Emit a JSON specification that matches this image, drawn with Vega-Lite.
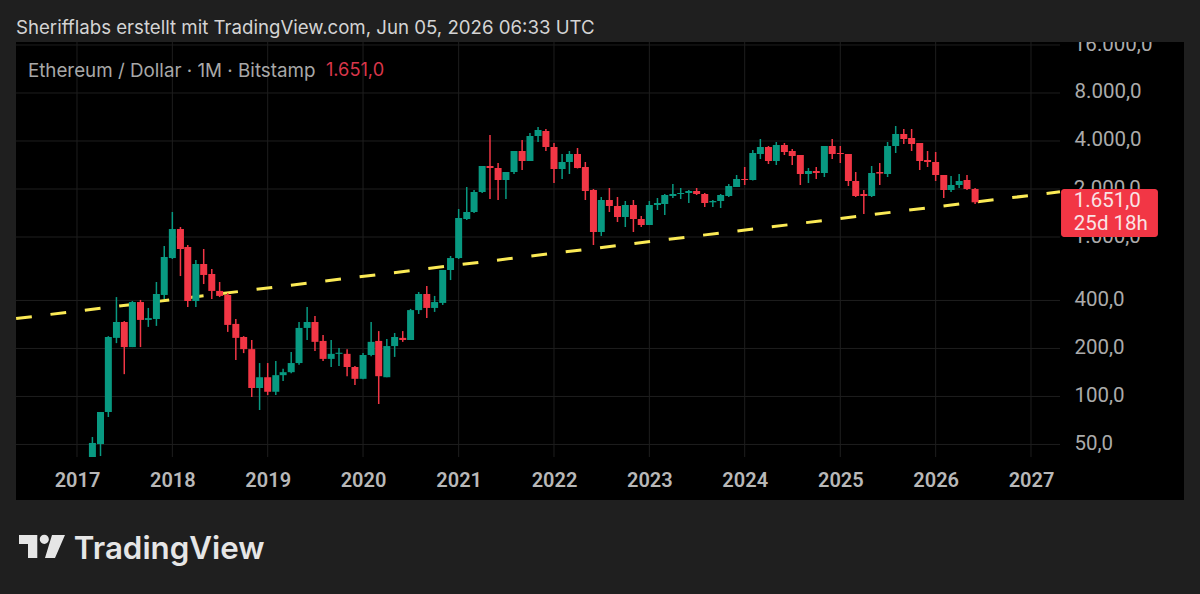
{
  "$schema": "https://vega.github.io/schema/vega-lite/v6.json",
  "width": 1168,
  "height": 458,
  "autosize": {"type": "none"},
  "padding": {"left": 16, "top": 42, "right": 16, "bottom": 94},
  "background": "#1f1f1f",
  "view": {"fill": "#000000", "stroke": null},
  "title": {
    "text": "Sherifflabs erstellt mit TradingView.com, Jun 05, 2026 06:33 UTC",
    "anchor": "start",
    "frame": "group",
    "offset": 4,
    "font": "Inter",
    "fontSize": 18.65,
    "fontWeight": "normal",
    "color": "#d4d4d4"
  },
  "datasets": {
    "candles": [
      {"date":"2017-03-01","open":41.7,"high":55.7,"low":41.7,"close":51.1},
      {"date":"2017-04-01","open":50.3,"high":79.9,"low":42.3,"close":79.9},
      {"date":"2017-05-01","open":79.9,"high":239,"low":74.3,"close":236},
      {"date":"2017-06-01","open":233,"high":420,"low":216,"close":293},
      {"date":"2017-07-01","open":293,"high":297,"low":138,"close":204},
      {"date":"2017-08-01","open":204,"high":397,"low":204,"close":391},
      {"date":"2017-09-01","open":391,"high":403,"low":204,"close":302},
      {"date":"2017-10-01","open":302,"high":359,"low":273,"close":310},
      {"date":"2017-11-01","open":306,"high":522,"low":277,"close":439},
      {"date":"2017-12-01","open":433,"high":878,"low":409,"close":749},
      {"date":"2018-01-01","open":738,"high":1435,"low":728,"close":1122},
      {"date":"2018-02-01","open":1122,"high":1155,"low":569,"close":841},
      {"date":"2018-03-01","open":866,"high":891,"low":364,"close":397},
      {"date":"2018-04-01","open":397,"high":717,"low":364,"close":677},
      {"date":"2018-05-01","open":677,"high":841,"low":507,"close":578},
      {"date":"2018-06-01","open":586,"high":630,"low":409,"close":459},
      {"date":"2018-07-01","open":459,"high":522,"low":420,"close":427},
      {"date":"2018-08-01","open":433,"high":445,"low":254,"close":281},
      {"date":"2018-09-01","open":285,"high":306,"low":169,"close":233},
      {"date":"2018-10-01","open":236,"high":239,"low":187,"close":198},
      {"date":"2018-11-01","open":198,"high":226,"low":99.2,"close":113},
      {"date":"2018-12-01","open":113,"high":162,"low":82.2,"close":132},
      {"date":"2019-01-01","open":132,"high":162,"low":102,"close":107},
      {"date":"2019-02-01","open":107,"high":167,"low":102,"close":136},
      {"date":"2019-03-01","open":136,"high":149,"low":125,"close":142},
      {"date":"2019-04-01","open":142,"high":190,"low":140,"close":162},
      {"date":"2019-05-01","open":162,"high":293,"low":158,"close":269},
      {"date":"2019-06-01","open":269,"high":364,"low":226,"close":293},
      {"date":"2019-07-01","open":293,"high":320,"low":193,"close":220},
      {"date":"2019-08-01","open":223,"high":243,"low":167,"close":172},
      {"date":"2019-09-01","open":172,"high":226,"low":153,"close":185},
      {"date":"2019-10-01","open":185,"high":201,"low":155,"close":188},
      {"date":"2019-11-01","open":185,"high":198,"low":134,"close":153},
      {"date":"2019-12-01","open":153,"high":155,"low":118,"close":129},
      {"date":"2020-01-01","open":129,"high":187,"low":128,"close":182},
      {"date":"2020-02-01","open":182,"high":293,"low":179,"close":220},
      {"date":"2020-03-01","open":223,"high":257,"low":89.7,"close":134},
      {"date":"2020-04-01","open":132,"high":229,"low":132,"close":207},
      {"date":"2020-05-01","open":207,"high":250,"low":177,"close":236},
      {"date":"2020-06-01","open":233,"high":257,"low":220,"close":226},
      {"date":"2020-07-01","open":226,"high":354,"low":226,"close":348},
      {"date":"2020-08-01","open":348,"high":452,"low":329,"close":439},
      {"date":"2020-09-01","open":439,"high":493,"low":310,"close":359},
      {"date":"2020-10-01","open":359,"high":427,"low":339,"close":391},
      {"date":"2020-11-01","open":386,"high":621,"low":375,"close":621},
      {"date":"2020-12-01","open":621,"high":760,"low":537,"close":738},
      {"date":"2021-01-01","open":738,"high":1498,"low":728,"close":1316},
      {"date":"2021-02-01","open":1297,"high":2058,"low":1278,"close":1435},
      {"date":"2021-03-01","open":1435,"high":1971,"low":1414,"close":1915},
      {"date":"2021-04-01","open":1915,"high":2788,"low":1888,"close":2788},
      {"date":"2021-05-01","open":2788,"high":4362,"low":1731,"close":2708},
      {"date":"2021-06-01","open":2708,"high":2911,"low":1706,"close":2278},
      {"date":"2021-07-01","open":2278,"high":2556,"low":1731,"close":2556},
      {"date":"2021-08-01","open":2556,"high":3462,"low":2484,"close":3462},
      {"date":"2021-09-01","open":3462,"high":4058,"low":2631,"close":2997},
      {"date":"2021-10-01","open":2997,"high":4490,"low":2997,"close":4299},
      {"date":"2021-11-01","open":4299,"high":4896,"low":3943,"close":4689},
      {"date":"2021-12-01","open":4622,"high":4757,"low":3462,"close":3668},
      {"date":"2022-01-01","open":3668,"high":3886,"low":2181,"close":2670},
      {"date":"2022-02-01","open":2670,"high":3315,"low":2311,"close":2954},
      {"date":"2022-03-01","open":2954,"high":3462,"low":2484,"close":3315},
      {"date":"2022-04-01","open":3315,"high":3616,"low":2690,"close":2708},
      {"date":"2022-05-01","open":2748,"high":2954,"low":1706,"close":1943},
      {"date":"2022-06-01","open":1971,"high":2000,"low":891,"close":1075},
      {"date":"2022-07-01","open":1075,"high":1782,"low":1015,"close":1706},
      {"date":"2022-08-01","open":1706,"high":2029,"low":1435,"close":1565},
      {"date":"2022-09-01","open":1565,"high":1782,"low":1242,"close":1335},
      {"date":"2022-10-01","open":1335,"high":1682,"low":1155,"close":1587},
      {"date":"2022-11-01","open":1587,"high":1706,"low":1075,"close":1297},
      {"date":"2022-12-01","open":1297,"high":1354,"low":1155,"close":1189},
      {"date":"2023-01-01","open":1189,"high":1682,"low":1189,"close":1587},
      {"date":"2023-02-01","open":1587,"high":1756,"low":1477,"close":1634},
      {"date":"2023-03-01","open":1610,"high":1861,"low":1374,"close":1834},
      {"date":"2023-04-01","open":1808,"high":2150,"low":1756,"close":1861},
      {"date":"2023-05-01","open":1861,"high":2029,"low":1731,"close":1888},
      {"date":"2023-06-01","open":1888,"high":1971,"low":1634,"close":1943},
      {"date":"2023-07-01","open":1943,"high":2029,"low":1834,"close":1861},
      {"date":"2023-08-01","open":1861,"high":1888,"low":1542,"close":1634},
      {"date":"2023-09-01","open":1650,"high":1706,"low":1542,"close":1682},
      {"date":"2023-10-01","open":1682,"high":1861,"low":1520,"close":1834},
      {"date":"2023-11-01","open":1808,"high":2150,"low":1782,"close":2088},
      {"date":"2023-12-01","open":2058,"high":2448,"low":2058,"close":2311},
      {"date":"2024-01-01","open":2311,"high":2748,"low":2119,"close":2278},
      {"date":"2024-02-01","open":2278,"high":3512,"low":2265,"close":3364},
      {"date":"2024-03-01","open":3315,"high":4117,"low":3084,"close":3668},
      {"date":"2024-04-01","open":3668,"high":3721,"low":2870,"close":2997},
      {"date":"2024-05-01","open":2997,"high":3943,"low":2828,"close":3776},
      {"date":"2024-06-01","open":3776,"high":3886,"low":3268,"close":3412},
      {"date":"2024-07-01","open":3462,"high":3564,"low":2828,"close":3221},
      {"date":"2024-08-01","open":3268,"high":3268,"low":2119,"close":2484},
      {"date":"2024-09-01","open":2484,"high":2708,"low":2181,"close":2594},
      {"date":"2024-10-01","open":2594,"high":2748,"low":2311,"close":2520},
      {"date":"2024-11-01","open":2520,"high":3721,"low":2378,"close":3721},
      {"date":"2024-12-01","open":3721,"high":4117,"low":3084,"close":3315},
      {"date":"2025-01-01","open":3364,"high":3721,"low":2911,"close":3315},
      {"date":"2025-02-01","open":3315,"high":3315,"low":2088,"close":2245},
      {"date":"2025-03-01","open":2245,"high":2556,"low":1782,"close":1808},
      {"date":"2025-04-01","open":1861,"high":1971,"low":1394,"close":1808},
      {"date":"2025-05-01","open":1808,"high":2788,"low":1782,"close":2520},
      {"date":"2025-06-01","open":2556,"high":2911,"low":2119,"close":2500},
      {"date":"2025-07-01","open":2484,"high":3943,"low":2378,"close":3721},
      {"date":"2025-08-01","open":3721,"high":4967,"low":3364,"close":4426},
      {"date":"2025-09-01","open":4426,"high":4757,"low":3830,"close":4117},
      {"date":"2025-10-01","open":4177,"high":4757,"low":3462,"close":3830},
      {"date":"2025-11-01","open":3886,"high":3886,"low":2631,"close":2997},
      {"date":"2025-12-01","open":3040,"high":3462,"low":2748,"close":2954},
      {"date":"2026-01-01","open":2954,"high":3412,"low":2245,"close":2448},
      {"date":"2026-02-01","open":2448,"high":2448,"low":1756,"close":1971},
      {"date":"2026-03-01","open":1971,"high":2413,"low":1915,"close":2119},
      {"date":"2026-04-01","open":2119,"high":2484,"low":2029,"close":2245},
      {"date":"2026-05-01","open":2278,"high":2448,"low":1971,"close":2000},
      {"date":"2026-06-01","open":2000,"high":2029,"low":1610,"close":1651}
    ]
  },
  "encoding": {
    "x": {
      "field": "date",
      "type": "temporal",
      "title": null,
      "scale": {
        "type": "utc",
        "nice": false,
        "padding": 0,
        "domain": [
          {"year": 2016, "month": 5, "date": 12, "hours": 12, "utc": true},
          {"year": 2028, "month": 8, "date": 8, "hours": 17, "utc": true}
        ]
      },
      "axis": {
        "values": [
          {"year": 2017, "utc": true}, {"year": 2018, "utc": true}, {"year": 2019, "utc": true},
          {"year": 2020, "utc": true}, {"year": 2021, "utc": true}, {"year": 2022, "utc": true},
          {"year": 2023, "utc": true}, {"year": 2024, "utc": true}, {"year": 2025, "utc": true},
          {"year": 2026, "utc": true}, {"year": 2027, "utc": true}
        ],
        "format": "%Y",
        "zindex": 1,
        "labelPadding": -20,
        "labelBaseline": "middle",
        "labelFont": "Roboto",
        "labelFontSize": 20,
        "labelFontWeight": 600,
        "labelColor": "#b8b8b8",
        "grid": false,
        "ticks": false,
        "domain": false
      }
    },
    "y": {
      "field": "price",
      "type": "quantitative",
      "title": null,
      "scale": {"type": "log", "domain": [22.42, 16708], "nice": false},
      "axis": {
        "orient": "right",
        "values": [50, 100, 200, 400, 4000, 8000],
        "labelExpr": "replace(format(datum.value, ','), ',', '.') + ',0'",
        "zindex": 1,
        "labelPadding": -110,
        "labelOffset": -1,
        "labelFont": "Roboto",
        "labelFontSize": 20.5,
        "labelColor": "#ababab",
        "grid": false,
        "ticks": false,
        "domain": false
      }
    }
  },
  "layer": [
    {
      "data": {"values": [
        {"price": 16000, "from": "2016-05-12", "to": "2027-04-22"},
        {"price": 8000, "from": "2016-05-12", "to": "2027-04-22"},
        {"price": 4000, "from": "2016-05-12", "to": "2027-04-22"},
        {"price": 2000, "from": "2016-05-12", "to": "2027-04-22"},
        {"price": 1000, "from": "2016-05-12", "to": "2027-04-22"},
        {"price": 400, "from": "2016-05-12", "to": "2027-04-22"},
        {"price": 200, "from": "2016-05-12", "to": "2027-04-22"},
        {"price": 100, "from": "2016-05-12", "to": "2027-04-22"},
        {"price": 50, "from": "2016-05-12", "to": "2027-04-22"}
      ]},
      "mark": {"type": "rule", "color": "#1e1e1e", "strokeWidth": 1},
      "encoding": {
        "x": {"field": "from", "type": "temporal"},
        "x2": {"field": "to"}
      }
    },
    {
      "data": {"values": [
        {"date": "2017-01-01", "top": 16708, "bottom": 41.7},
        {"date": "2018-01-01", "top": 16708, "bottom": 41.7},
        {"date": "2019-01-01", "top": 16708, "bottom": 41.7},
        {"date": "2020-01-01", "top": 16708, "bottom": 41.7},
        {"date": "2021-01-01", "top": 16708, "bottom": 41.7},
        {"date": "2022-01-01", "top": 16708, "bottom": 41.7},
        {"date": "2023-01-01", "top": 16708, "bottom": 41.7},
        {"date": "2024-01-01", "top": 16708, "bottom": 41.7},
        {"date": "2025-01-01", "top": 16708, "bottom": 41.7},
        {"date": "2026-01-01", "top": 16708, "bottom": 41.7},
        {"date": "2027-01-01", "top": 16708, "bottom": 41.7}
      ]},
      "mark": {"type": "rule", "color": "#1e1e1e", "strokeWidth": 1},
      "encoding": {
        "y": {"field": "top", "type": "quantitative"},
        "y2": {"field": "bottom"}
      }
    },
    {
      "data": {"values": [
        {"date": "2016-05-13", "price": 308},
        {"date": "2027-04-22", "price": 1921}
      ]},
      "mark": {"type": "line", "color": "#fbea55", "strokeWidth": 3, "strokeDash": [15.8, 18.8]}
    },
    {
      "data": {"name": "candles"},
      "mark": {"type": "rule", "strokeWidth": 1.5},
      "encoding": {
        "y": {"field": "low", "type": "quantitative"},
        "y2": {"field": "high"},
        "color": {"condition": {"test": "datum.open < datum.close", "value": "#089981"}, "value": "#f23645"}
      }
    },
    {
      "data": {"name": "candles"},
      "mark": {"type": "bar", "width": 7},
      "encoding": {
        "y": {"field": "open", "type": "quantitative"},
        "y2": {"field": "close"},
        "color": {"condition": {"test": "datum.open < datum.close", "value": "#089981"}, "value": "#f23645"}
      }
    },
    {
      "data": {"values": [
        {"date": "2027-06-14", "price": 2000, "label": "2.000,0"},
        {"date": "2027-06-14", "price": 1000, "label": "1.000,0"}
      ]},
      "mark": {"type": "text", "align": "left", "baseline": "middle", "font": "Roboto", "fontSize": 20.5, "color": "#ababab"},
      "encoding": {"text": {"field": "label"}}
    },
    {
      "data": {"values": [{"from": "2027-04-26", "to": "2028-05-01", "top": 2000, "bottom": 1000}]},
      "mark": {"type": "rect", "color": "#f23645", "cornerRadius": 3},
      "encoding": {
        "x": {"field": "from", "type": "temporal"},
        "x2": {"field": "to"},
        "y": {"field": "top", "type": "quantitative"},
        "y2": {"field": "bottom"}
      }
    },
    {
      "data": {"values": [
        {"date": "2027-06-14", "price": 1682, "label": "1.651,0"},
        {"date": "2027-06-14", "price": 1206, "label": "25d 18h"}
      ]},
      "mark": {"type": "text", "align": "left", "baseline": "middle", "font": "Roboto", "fontSize": 20.5, "color": "#f9e3e5"},
      "encoding": {"text": {"field": "label"}}
    },
    {
      "data": {"values": [{"date": "2027-06-14", "price": 16000, "label": "16.000,0"}]},
      "mark": {"type": "text", "align": "left", "baseline": "middle", "font": "Roboto", "fontSize": 20.5, "color": "#ababab", "clip": true},
      "encoding": {"text": {"field": "label"}}
    },
    {
      "data": {"values": [{"date": "2016-06-27", "price": 10950, "label": "Ethereum / Dollar · 1M · Bitstamp"}]},
      "mark": {"type": "text", "align": "left", "baseline": "middle", "font": "Inter", "fontSize": 18.8, "color": "#a8a8a8"},
      "encoding": {"text": {"field": "label"}}
    },
    {
      "data": {"values": [{"date": "2019-08-12", "price": 10950, "label": "1.651,0"}]},
      "mark": {"type": "text", "align": "left", "baseline": "middle", "font": "Inter", "fontSize": 18.2, "color": "#d8364a"},
      "encoding": {"text": {"field": "label"}}
    },
    {
      "data": {"values": [{"date": "2016-08-20", "price": 11.45}]},
      "mark": {
        "type": "point",
        "shape": "M-.958 -.479L-.196 -.479L-.196 .479L-.583 .479L-.583 -.104L-.958 -.104ZM-.094 -.3A.19 .19 0 1 1 .286 -.3A.19 .19 0 1 1 -.094 -.3ZM.417 -.479L.958 -.479L.542 .479L.125 .479Z",
        "size": 2304,
        "filled": true,
        "color": "#e6e6e6",
        "opacity": 1,
        "strokeWidth": 0
      }
    },
    {
      "data": {"values": [{"date": "2016-12-20", "price": 10.85, "label": "TradingView"}]},
      "mark": {"type": "text", "align": "left", "baseline": "middle", "font": "Inter", "fontSize": 31.3, "fontWeight": 600, "color": "#e6e6e6"},
      "encoding": {"text": {"field": "label"}}
    }
  ]
}
